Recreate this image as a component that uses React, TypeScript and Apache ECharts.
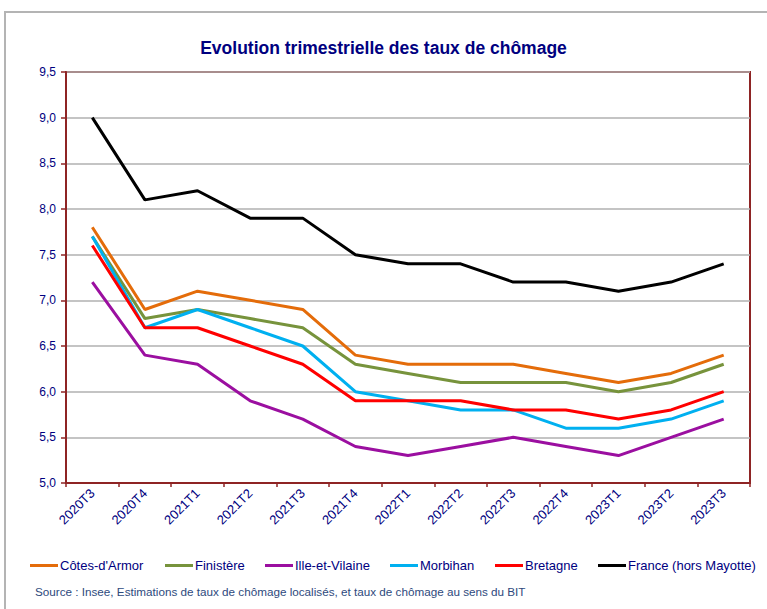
import React, { useEffect, useRef } from "react";
import * as echarts from "echarts";

const categories = ["2020T3", "2020T4", "2021T1", "2021T2", "2021T3", "2021T4", "2022T1", "2022T2", "2022T3", "2022T4", "2023T1", "2023T2", "2023T3"];
const cotesArmor = [7.8, 6.9, 7.1, 7.0, 6.9, 6.4, 6.3, 6.3, 6.3, 6.2, 6.1, 6.2, 6.4];
const finistere = [7.7, 6.8, 6.9, 6.8, 6.7, 6.3, 6.2, 6.1, 6.1, 6.1, 6.0, 6.1, 6.3];
const illeEtVilaine = [7.2, 6.4, 6.3, 5.9, 5.7, 5.4, 5.3, 5.4, 5.5, 5.4, 5.3, 5.5, 5.7];
const morbihan = [7.7, 6.7, 6.9, 6.7, 6.5, 6.0, 5.9, 5.8, 5.8, 5.6, 5.6, 5.7, 5.9];
const bretagne = [7.6, 6.7, 6.7, 6.5, 6.3, 5.9, 5.9, 5.9, 5.8, 5.8, 5.7, 5.8, 6.0];
const france = [9.0, 8.1, 8.2, 7.9, 7.9, 7.5, 7.4, 7.4, 7.2, 7.2, 7.1, 7.2, 7.4];

const seriesNames = ["Côtes-d'Armor", "Finistère", "Ille-et-Vilaine", "Morbihan", "Bretagne", "France (hors Mayotte)"];
const seriesData = [cotesArmor, finistere, illeEtVilaine, morbihan, bretagne, france];
const seriesColors = ["#E46C0A", "#77933C", "#9B0FA0", "#00B0F0", "#FF0000", "#000000"];
const legendLefts = [30, 165, 265, 390, 495, 598];

const NAVY = "#000080";
const FONT = "'Liberation Sans', Arial, sans-serif";
const AXIS_RED = "#8E2424";

export default function App() {
  const ref = useRef<HTMLDivElement>(null);
  useEffect(() => {
    document.body.style.margin = "0";
    if (!ref.current) return;
    const chart = echarts.init(ref.current, null, { renderer: "svg" });
    chart.setOption({
      animation: false,
      backgroundColor: "#ffffff",
      textStyle: { fontFamily: FONT },
      title: {
        text: "Evolution trimestrielle des taux de chômage",
        left: "center",
        top: 34,
        textStyle: { fontFamily: FONT, fontSize: 17.5, fontWeight: "bold", color: NAVY },
      },
      legend: seriesNames.map((n, i) => ({
        data: [n],
        left: legendLefts[i],
        top: 559,
        icon: "rect",
        itemWidth: 28,
        itemHeight: 3,
        itemGap: 0,
        padding: 0,
        textStyle: { fontFamily: FONT, fontSize: 13, color: NAVY, padding: [0, 0, 0, -3] },
      })),
      grid: {
        left: 66,
        right: 17,
        top: 72,
        bottom: 126,
        show: true,
        borderColor: AXIS_RED,
        borderWidth: 2,
        containLabel: false,
      },
      xAxis: {
        type: "category",
        data: categories,
        boundaryGap: true,
        axisLine: { lineStyle: { color: AXIS_RED, width: 2 } },
        axisTick: { show: true, length: 4, lineStyle: { color: AXIS_RED, width: 1.5 } },
        axisLabel: { rotate: 45, color: NAVY, fontFamily: FONT, fontSize: 13, margin: 8, interval: 0 },
        splitLine: { show: false },
      },
      yAxis: {
        type: "value",
        min: 5,
        max: 9.5,
        interval: 0.5,
        axisLine: { show: true, lineStyle: { color: AXIS_RED, width: 2 } },
        axisTick: { show: true, length: 5, lineStyle: { color: AXIS_RED, width: 1.5 } },
        axisLabel: {
          color: NAVY,
          fontFamily: FONT,
          fontSize: 12,
          margin: 10,
          formatter: (v: number) => v.toFixed(1).replace(".", ","),
        },
        splitLine: { show: true, lineStyle: { color: "#B0B0B0", width: 1.5 } },
      },
      series: seriesNames.map((n, i) => ({
        name: n,
        type: "line",
        data: seriesData[i],
        symbol: "none",
        color: seriesColors[i],
        lineStyle: { color: seriesColors[i], width: 3 },
        z: 3,
      })),
      graphic: [
        {
          type: "rect",
          shape: { x: 5, y: 12, width: 800, height: 700 },
          style: { fill: "none", stroke: "#B4B4B4", lineWidth: 2 },
          silent: true,
          z: 0,
        },
        {
          type: "text",
          x: 35,
          y: 585,
          style: {
            text: "Source : Insee, Estimations de taux de chômage localisés, et taux de chômage au sens du BIT",
            fill: "#2E4A7D",
            fontFamily: FONT,
            fontSize: 11.7,
          },
        },
      ],
    });
    return () => chart.dispose();
  }, []);
  return <div ref={ref} style={{ width: 767, height: 609 }} />;
}
